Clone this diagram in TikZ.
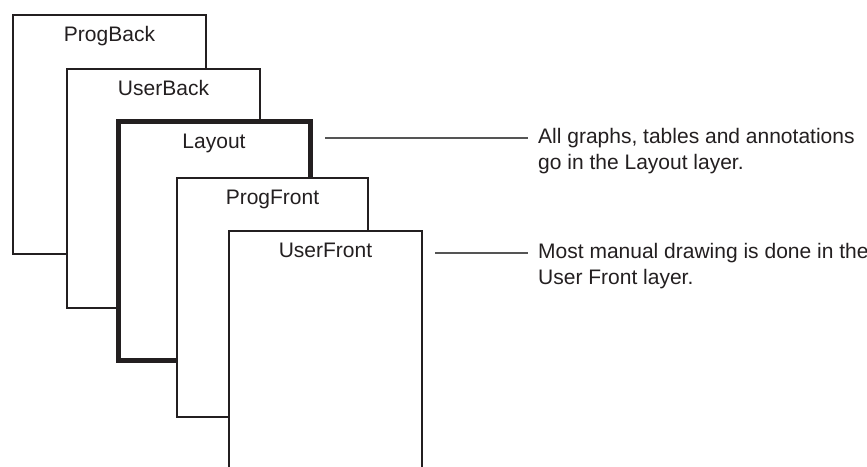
\documentclass[tikz,border=0pt]{standalone}
\usepackage{fontspec}
\setmainfont{Liberation Sans}
\definecolor{ink}{HTML}{231F20}
\definecolor{lead}{HTML}{555555}
\tikzset{
  layerbox/.style={draw=ink, fill=white, line width=2pt, rectangle, inner sep=0pt, outer sep=0pt, anchor=north west},
  boldlayer/.style={layerbox, line width=5pt},
  lbl/.style={text=ink, inner sep=0pt, anchor=base, font=\fontsize{21}{26}\selectfont},
  note/.style={text=ink, inner xsep=10pt, inner ysep=0pt, anchor=base west, align=left, font=\fontsize{21}{26}\selectfont},
  conn/.style={draw=lead, line width=1.2pt}
}
\begin{document}
\begin{tikzpicture}[x=1pt,y=-1pt]
\useasboundingbox (0,0) rectangle (867,466);
\clip (0,0) rectangle (867,466);
\fill[white] (0,0) rectangle (867,466);
% layers
\node[layerbox, minimum width=193pt, minimum height=239pt] (pb) at (13,15) {};
\node[lbl] at ([yshift=-26pt]pb.north) {ProgBack};
\node[layerbox, minimum width=193pt, minimum height=239pt] (ub) at (67,69) {};
\node[lbl] at ([yshift=-26pt]ub.north) {UserBack};
\node[boldlayer, minimum width=192pt, minimum height=239pt] (lay) at (118,121) {};
\node[lbl] at ([yshift=-27pt]lay.north) {Layout};
\node[layerbox, minimum width=191pt, minimum height=239pt] (pf) at (177,178) {};
\node[lbl] at ([yshift=-26pt]pf.north) {ProgFront};
\node[layerbox, minimum width=193pt, minimum height=260pt] (uf) at (229,231) {};
\node[lbl] at ([yshift=-26pt]uf.north) {UserFront};
% notes (base anchor = baseline of the last line)
\node[note] (t1) at (528,169) {All graphs, tables and annotations\\go in the Layout layer.};
\node[note] (t2) at (528,284) {Most manual drawing is done in the\\User Front layer.};
\coordinate (c1) at (325,138);
\coordinate (c2) at (435,253);
\draw[conn] (c1) -- (c1 -| t1.west);
\draw[conn] (c2) -- (c2 -| t2.west);
\end{tikzpicture}
\end{document}
